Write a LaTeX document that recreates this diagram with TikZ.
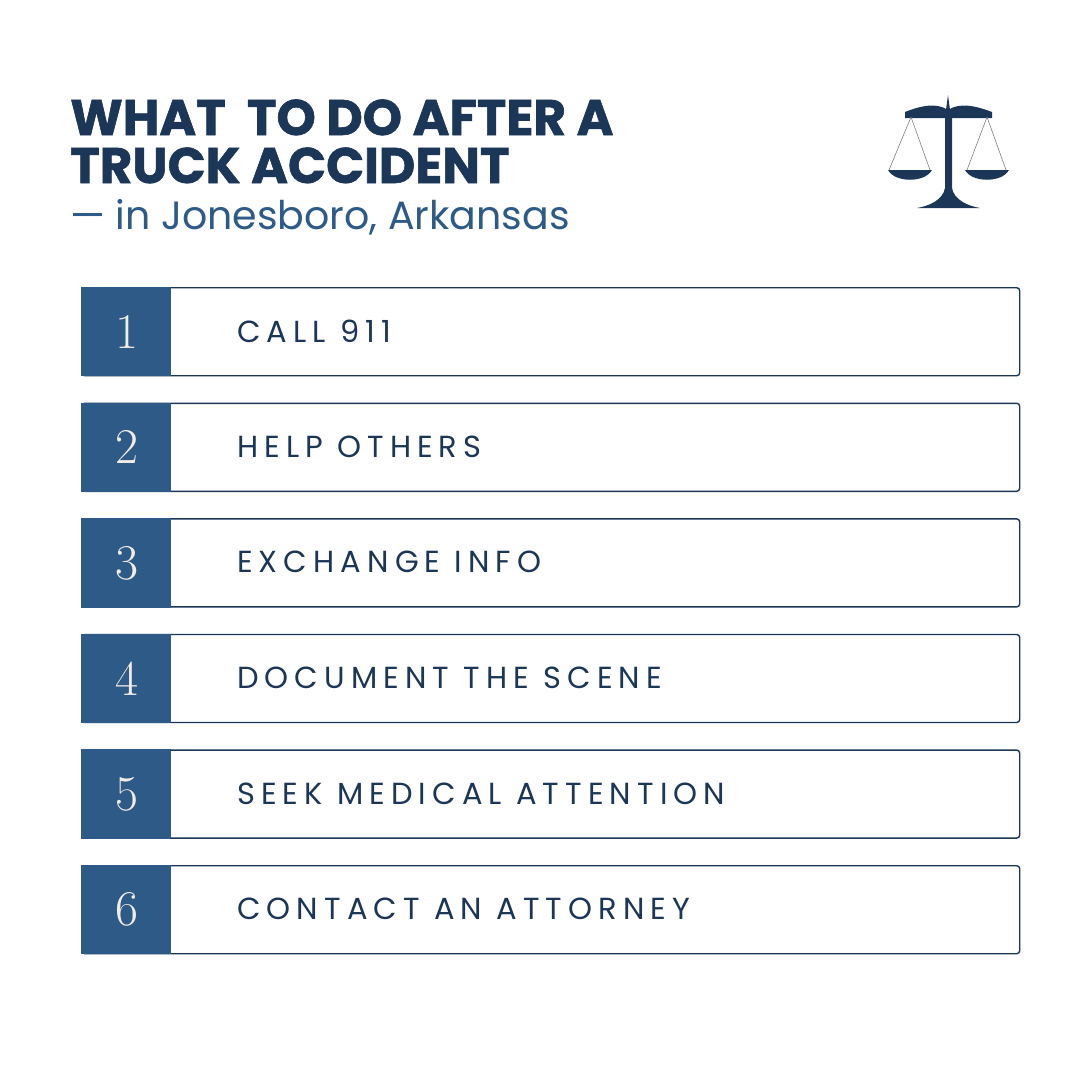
\documentclass[tikz,border=0pt]{standalone}
\usepackage{fontspec}
\newfontfamily\popp{Poppins}
\newfontfamily\titlefont{Poppins}[BoldFeatures={FakeBold=1.2}]
\newfontfamily\poppwide{Poppins}[LetterSpace=20]
\definecolor{navy}{HTML}{1C3657}
\definecolor{steel}{HTML}{2E5A87}
\definecolor{cream}{HTML}{F2ECE6}
\tikzset{
  rowbox/.style={draw=navy, line width=1.4pt, rounded corners=3pt, minimum width=938pt, minimum height=88pt, inner sep=0pt, anchor=north west, fill=white},
  numbox/.style={fill=steel, minimum width=90pt, minimum height=89.4pt, inner sep=0pt, anchor=west},
  numtext/.style={text=cream, font=\fontsize{50}{50}\selectfont},
  steptext/.style={text=navy, anchor=west, inner sep=0pt, font=\poppwide\fontsize{30.5}{31}\selectfont},
  titletext/.style={anchor=base west, inner sep=0pt, text=navy, font=\titlefont\bfseries\fontsize{50}{50}\selectfont},
}
\begin{document}
\begin{tikzpicture}[x=1pt,y=-1pt]
\useasboundingbox (0,0) rectangle (1080,1080);
\fill[white] (0,0) rectangle (1080,1080);
% title
\node[titletext] (title1) at (70,135) {WHAT\ \ TO DO AFTER A};
\node[titletext] (title2) at (70,183) {TRUCK ACCIDENT};
\node[anchor=base west, inner sep=0pt, text=steel, font=\popp\fontsize{39.5}{40}\selectfont] (sub) at (70,229) {— in Jonesboro, Arkansas};
% rows
\foreach \i/\t [count=\k] in {1/CALL 911, 2/HELP OTHERS, 3/EXCHANGE INFO, 4/DOCUMENT THE SCENE, 5/SEEK MEDICAL ATTENTION, 6/CONTACT AN ATTORNEY}{
  \pgfmathsetmacro{\yy}{287+(\k-1)*115.6}
  \node[rowbox] (r\i) at (81,\yy) {};
  \node[numbox] (n\i) at ([xshift=-0.7pt]r\i.west) {};
  \node[numtext] (nt\i) at ([xshift=1.5pt]n\i.center) {\i};
  \node[steptext] (t\i) at (237,\yy+44) {\t};
}
% scales icon
\begin{scope}[navy]
  % post
  \fill (948,95) -- (950,110) -- (952,118) -- (952,188) .. controls (954,200) and (968,206) .. (980,208) -- (917,208) .. controls (929,206) and (943,200) .. (945,188) -- (945,118) -- (946,110) -- cycle;
  % beam
  \fill (905,112) .. controls (920,106) and (936,102) .. (948,110) .. controls (960,102) and (976,106) .. (992,112) -- (992,118) -- (905,118) -- cycle;
  % strings
  \draw[gray, line width=0.6pt] (911,117) -- (889,170) (911,117) -- (930,170);
  \draw[gray, line width=0.6pt] (987,117) -- (967,170) (987,117) -- (1006,170);
  % pans
  \fill (888,170) -- (932,170) .. controls (925,183) and (895,183) .. cycle;
  \fill (965,170) -- (1009,170) .. controls (1002,183) and (972,183) .. cycle;
\end{scope}
\end{tikzpicture}
\end{document}
